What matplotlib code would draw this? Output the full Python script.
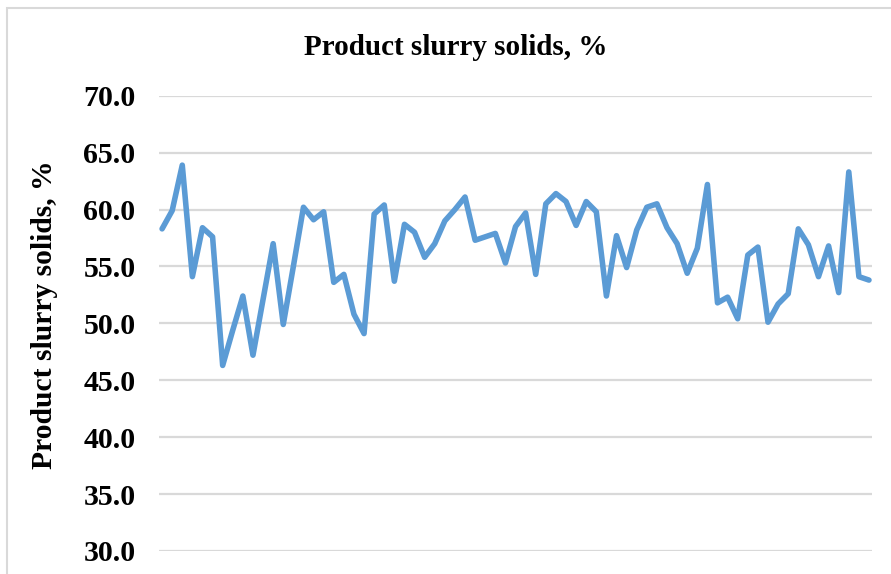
import matplotlib.pyplot as plt
from matplotlib.patches import Rectangle

# Product slurry solids readings, in sample order
sample_no = list(range(71))
solids = [58.3, 59.9, 63.9, 54.1, 58.4, 57.6, 46.3, 49.4, 52.4, 47.2,
          52.1, 57.0, 49.9, 55.0, 60.2, 59.1, 59.8, 53.6, 54.3, 50.8,
          49.1, 59.6, 60.4, 53.7, 58.7, 58.0, 55.8, 57.0, 59.0, 60.0,
          61.1, 57.3, 57.6, 57.9, 55.3, 58.5, 59.7, 54.3, 60.5, 61.4,
          60.7, 58.6, 60.7, 59.8, 52.4, 57.7, 54.9, 58.2, 60.2, 60.5,
          58.4, 57.0, 54.4, 56.6, 62.2, 51.8, 52.3, 50.4, 56.0, 56.7,
          50.1, 51.7, 52.6, 58.3, 56.9, 54.1, 56.8, 52.7, 63.3, 54.1,
          53.8]
yticks = [30, 35, 40, 45, 50, 55, 60, 65, 70]

font = ['Liberation Serif', 'DejaVu Serif']

fig = plt.figure(figsize=(8.91, 5.74), dpi=100)
ax = fig.add_axes([0.1785, 0.0401, 0.8002, 0.7932])

ax.plot(sample_no, solids, color='#5B9BD5', linewidth=4.0,
        solid_joinstyle='round', solid_capstyle='round', zorder=3)

ax.set_ylim(30, 70)
ax.set_xlim(-0.3, 70.3)
ax.set_yticks(yticks)
ax.set_yticklabels(['%.1f' % v for v in yticks], family=font,
                   fontweight='bold', fontsize=21.5)
ax.set_xticks([])
ax.tick_params(axis='y', length=0, pad=17, colors='black')
ax.grid(axis='y', color='#D9D9D9', linewidth=1.6, zorder=0)
for s in ax.spines.values():
    s.set_visible(False)

fig.text(0.511, 0.917, 'Product slurry solids, %', ha='center', va='center',
         family=font, fontweight='bold', fontsize=21)
fig.text(0.050, 0.451, 'Product slurry solids, %', ha='center', va='center',
         rotation=90, family=font, fontweight='bold', fontsize=21.3)

# chart frame
fig.patches.append(Rectangle((7 / 891, -0.1), 1.1, 1.1 - 8 / 574,
                             transform=fig.transFigure, fill=False,
                             edgecolor='#D9D9D9', linewidth=1.5))

fig.savefig('out.png', dpi=100)
